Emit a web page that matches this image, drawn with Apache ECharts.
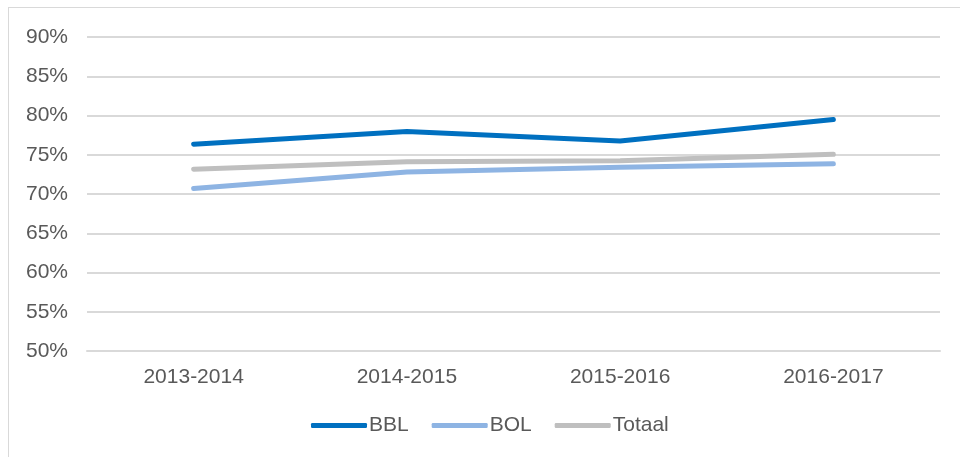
<!DOCTYPE html>
<html>
<head>
<meta charset="utf-8">
<script src="https://cdn.jsdelivr.net/npm/echarts@6/dist/echarts.min.js"></script>
<style>
  html, body { margin: 0; padding: 0; background: #fff; }
  #frame { position: absolute; left: 8px; top: 7px; width: 960px; height: 460px; border: 1px solid #d9d9d9; box-sizing: border-box; }
  #chart { position: absolute; left: 0; top: 0; width: 960px; height: 457px; }
</style>
</head>
<body>
<div id="frame"></div>
<div id="chart"></div>
<script>
// School years on the category axis
const categories = ['2013-2014', '2014-2015', '2015-2016', '2016-2017'];
// Percentages per learning pathway
const bbl = [76.35, 77.95, 76.75, 79.5];
const bol = [70.7, 72.8, 73.4, 73.85];
const totaal = [73.15, 74.1, 74.25, 75.05];

const textColor = '#595959';
const font = 'Liberation Sans, Arial, sans-serif';
const fontSize = 21;

const chart = echarts.init(document.getElementById('chart'), null, { renderer: 'canvas' });

function lineSeries(name, data, color) {
  return {
    name: name,
    type: 'line',
    data: data,
    symbol: 'none',
    lineStyle: { width: 5, color: color, cap: 'round', join: 'round' },
    itemStyle: { color: color },
    emphasis: { disabled: true }
  };
}

chart.setOption({
  animation: false,
  grid: { left: 87, right: 20, top: 37, bottom: 106 },
  legend: {
    top: 410,
    left: 306,
    itemWidth: 56,
    itemHeight: 5,
    itemGap: 23,
    icon: 'roundRect',
    textStyle: { color: textColor, fontSize: fontSize, fontFamily: font, padding: [0, 0, 0, -3] },
    data: ['BBL', 'BOL', 'Totaal']
  },
  xAxis: {
    type: 'category',
    data: categories,
    boundaryGap: true,
    axisLine: { show: true, lineStyle: { color: '#d9d9d9', width: 2 } },
    axisTick: { show: false },
    axisLabel: { color: textColor, fontSize: fontSize, fontFamily: font, margin: 16 }
  },
  yAxis: {
    type: 'value',
    min: 50,
    max: 90,
    interval: 5,
    axisLine: { show: false },
    axisTick: { show: false },
    splitLine: { lineStyle: { color: '#d9d9d9', width: 2 } },
    axisLabel: {
      color: textColor, fontSize: fontSize, fontFamily: font, margin: 19,
      formatter: v => v + '%'
    }
  },
  series: [
    lineSeries('BBL', bbl, '#0070c0'),
    lineSeries('BOL', bol, '#8eb4e3'),
    lineSeries('Totaal', totaal, '#bfbfbf')
  ]
});
</script>
</body>
</html>
